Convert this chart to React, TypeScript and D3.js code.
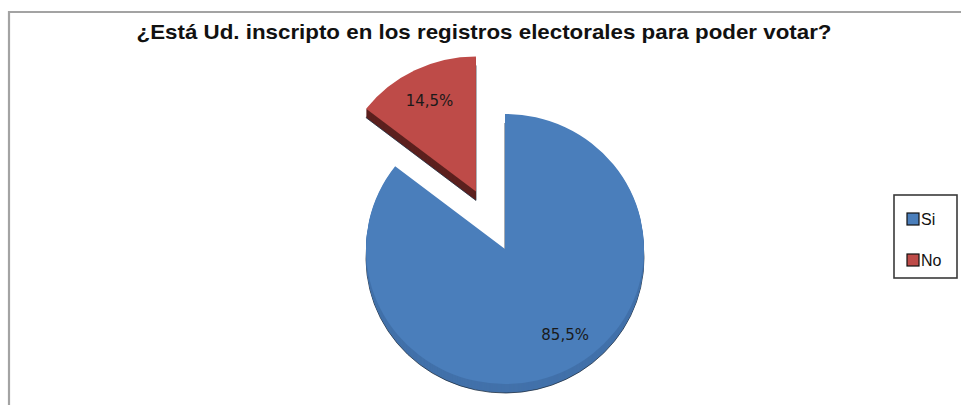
import React from 'react';
import * as d3 from 'd3';

// chart data
const title = '¿Está Ud. inscripto en los registros electorales para poder votar?';
const categories = ['Si', 'No'];
const values = [85.5, 14.5];
const valueLabels = ['85,5%', '14,5%'];
const colors = ['#4a7ebb', '#be4b48'];
const sideColors = ['#4271aa', '#5c201e'];

const width = 961;
const height = 405;

const App: React.FC = () => {
  const cx = 505;
  const cy = 249;
  const rx = 139;
  const ry = 135;
  const depth = 9;
  const explode = [0, 66];
  const labelNudge = [-0.15, 0];
  const labelR = 0.76;

  const pie = d3
    .pie<number>()
    .sort(null)
    .startAngle(0)
    .endAngle(2 * Math.PI)
    .value((d) => d);
  const arcs = pie(values);

  const arc = d3.arc<d3.PieArcDatum<number>>().innerRadius(0).outerRadius(rx);

  const slices = arcs.map((a, i) => {
    const mid = (a.startAngle + a.endAngle) / 2;
    const ox = Math.sin(mid) * explode[i];
    const oy = -Math.cos(mid) * explode[i] * (ry / rx);
    const la = mid + labelNudge[i];
    const lx = ox + Math.sin(la) * rx * labelR;
    const ly = oy - Math.cos(la) * rx * labelR * (ry / rx);
    return { a, i, ox, oy, lx, ly, d: arc(a) as string };
  });

  const layers = d3.range(depth, 0, -1);

  return (
    <svg
      width={width}
      height={height}
      style={{ position: 'absolute', left: 0, top: 0, background: '#fff' }}
    >
      {/* chart frame */}
      <path d={`M9,${height} V12 H${width}`} fill="none" stroke="#a3a3a3" strokeWidth={2.2} />

      <text
        x={484}
        y={39}
        textAnchor="middle"
        textLength={695}
        lengthAdjust="spacingAndGlyphs"
        style={{ fontFamily: '"Liberation Sans Narrow", "Liberation Sans", Arial, sans-serif', fontWeight: 'bold', fontSize: 21, fill: '#111' }}
      >
        {title}
      </text>

      <g transform={`translate(${cx},${cy})`}>
        {/* sides (extrusion) */}
        {slices.map((s) => (
          <g key={'side' + s.i} transform={`translate(${s.ox},${s.oy})`}>
            {layers.map((k) => (
              <path
                key={k}
                d={s.d}
                transform={`translate(0,${k}) scale(1,${ry / rx})`}
                fill={sideColors[s.i]}
                stroke={k === depth ? '#1c2c40' : 'none'}
                strokeWidth={0.8}
              />
            ))}
          </g>
        ))}
        {/* top faces */}
        {slices.map((s) => (
          <path
            key={'top' + s.i}
            d={s.d}
            transform={`translate(${s.ox},${s.oy}) scale(1,${ry / rx})`}
            fill={colors[s.i]}
          />
        ))}
        {slices.map((s) => (
          <text
            key={'lbl' + s.i}
            x={s.lx}
            y={s.ly + 2}
            textAnchor="middle"
            dominantBaseline="central"
            style={{ fontFamily: '"DejaVu Sans", Verdana, sans-serif', fontSize: 15, fill: '#1a1a1a' }}
          >
            {valueLabels[s.i]}
          </text>
        ))}
      </g>

      {/* legend */}
      <g>
        <rect x={894} y={195} width={63} height={83} fill="#fff" stroke="#3a3a3a" strokeWidth={1.6} />
        {categories.map((c, i) => (
          <g key={c} transform={`translate(907,${219 + i * 41})`}>
            <rect x={0} y={-6} width={12} height={12} fill={colors[i]} stroke="#111" strokeWidth={1.2} />
            <text
              x={14}
              y={0}
              dominantBaseline="central"
              style={{ fontFamily: '"Liberation Sans", Arial, sans-serif', fontSize: 16, fill: '#111' }}
            >
              {c}
            </text>
          </g>
        ))}
      </g>
    </svg>
  );
};

export default App;
